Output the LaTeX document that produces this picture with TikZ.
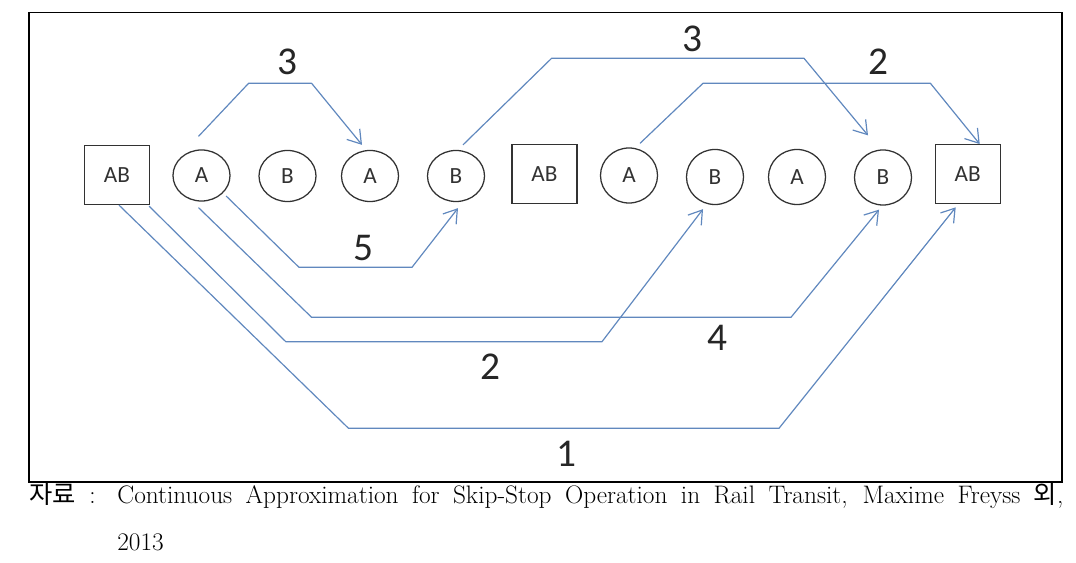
\documentclass[tikz,border=0pt]{standalone}
\usepackage{fontspec}
\usetikzlibrary{arrows.meta,shapes.geometric}
\newfontfamily\lblfont{Carlito}
\newfontfamily\krfont{Noto Sans CJK KR}
\definecolor{routeBlue}{RGB}{96,136,190}
\definecolor{stopGray}{RGB}{50,50,50}
\tikzset{
    >={Straight Barb[length=3.2mm,width=4.2mm]},
    station/.style={ellipse,draw=stopGray,line width=0.9pt,minimum width=1.425cm,minimum height=#1,inner sep=0pt,text=stopGray,font=\lblfont\fontsize{16.5}{16.5}\selectfont},
    station/.default=1.275cm,
    terminal/.style={rectangle,draw=stopGray,line width=0.9pt,minimum width=1.625cm,minimum height=1.475cm,inner sep=0pt,text=stopGray,font=\lblfont\fontsize{16.5}{16.5}\selectfont},
    route/.style={->,draw=routeBlue,line width=0.85pt,line join=round},
    count/.style={inner sep=0pt,text=black!85,font=\lblfont\fontsize{28}{28}\selectfont},
    source/.style={anchor=base west,inner sep=0pt,font=\fontsize{18}{21}\selectfont}
}

\begin{document}
\begin{tikzpicture}[x=0.025cm,y=-0.025cm]
  \useasboundingbox (0,0) rectangle (1076,563);
  \draw[line width=0.8pt] (29,12.5) rectangle (1062,482);

  \node[terminal] (ab1) at (117,175) {AB};
  \node[station] (a1) at (201.5,175.5) {A};
  \node[station] (b1) at (287.5,176) {B};
  \node[station] (a2) at (370,176) {A};
  \node[station] (b2) at (456,176) {B};
  \node[terminal] (ab2) at (544.5,174.2) {AB};
  \node[station=1.375cm] (a3) at (629,175.5) {A};
  \node[station=1.375cm] (b3) at (715,177) {B};
  \node[station=1.375cm] (a4) at (797,177) {A};
  \node[station=1.375cm] (b4) at (883,177.5) {B};
  \node[terminal] (ab3) at (967.7,174.2) {AB};

  \draw[route] ([shift={(-3,-13)}]a1.north) -- (248.6,83.3) -- (311.6,83.3) -- ([shift={(-8,-5)}]a2.north);
  \draw[route] ([shift={(4,2)}]a1.south east) -- (299,267.3) -- (412,267.3) -- ([shift={(2,6)}]b2.south);
  \draw[route] ([shift={(7,-5)}]b2.north) -- (551.6,58.3) -- (804,58.3) -- ([shift={(-15,-14)}]b4.north);
  \draw[route] ([shift={(11,-4)}]a3.north) -- (703,83.3) -- (930.4,83.3) -- ([shift={(12,0)}]ab3.north);
  \draw[route] ([shift={(2,0)}]ab1.south) -- (348.5,428.3) -- (779,428.3) -- ([shift={(-12,3)}]ab3.south);
  \draw[route] ([shift={(-1,1)}]ab1.south east) -- (285.8,341.7) -- (602,341.7) -- ([shift={(-12,4)}]b3.south);
  \draw[route] ([shift={(-3,6)}]a1.south) -- (311.6,317.3) -- (791,317.3) -- ([shift={(-4,4)}]b4.south);

  \node[count] (n3a) at (287,61.7) {3};
  \node[count] (n5) at (363,247.7) {5};
  \node[count] (n3b) at (692,39) {3};
  \node[count] (n2a) at (878,61.7) {2};
  \node[count] (n4) at (717,337.5) {4};
  \node[count] (n2b) at (490,366.7) {2};
  \node[count] (n1) at (566,453.7) {1};

  \node[source] (src) at (29,503.5) {\makebox[25.85cm][s]{{\krfont 자료} : Continuous Approximation for Skip-Stop Operation in Rail Transit, Maxime Freyss {\krfont 외},}};
  \node[source] (yr) at (117,550) {2013};
\end{tikzpicture}
\end{document}
